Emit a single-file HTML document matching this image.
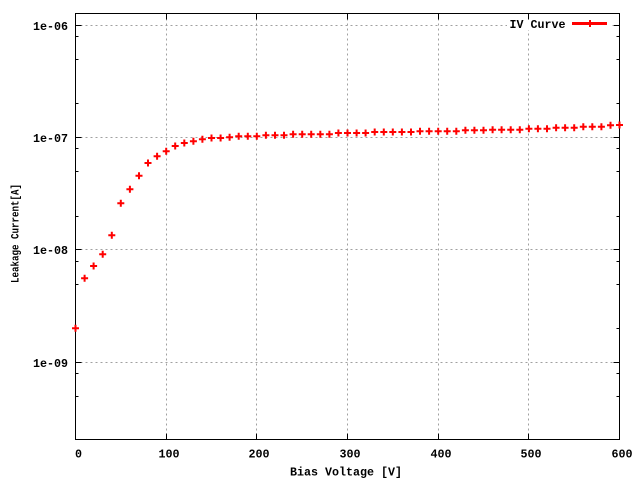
<!DOCTYPE html>
<html><head><meta charset="utf-8"><style>
html,body{margin:0;padding:0;background:#fff;}
svg{display:block;}
text{font-family:"Liberation Mono","DejaVu Sans Mono",monospace;font-weight:bold;fill:#000;}
</style></head><body>
<svg width="640" height="480" viewBox="0 0 640 480" xmlns="http://www.w3.org/2000/svg">
<defs>
<marker id="cr" markerUnits="userSpaceOnUse" markerWidth="10" markerHeight="10" refX="5" refY="5" overflow="visible">
<path d="M1.5 5H8.5M5 1.5V8.5" stroke="#f00" stroke-width="2" fill="none"/>
</marker>
</defs>
<rect width="640" height="480" fill="#fff"/>
<g stroke="#a0a0a0" stroke-width="1" stroke-dasharray="2,3" fill="none">
<path d="M75.5 25.5H619.5M75.5 137.5H619.5M75.5 249.5H619.5M75.5 362.5H619.5"/>
<path d="M166.5 13.5V439.5M256.5 13.5V439.5M347.5 13.5V439.5M438.5 13.5V439.5M528.5 13.5V439.5"/>
</g>
<rect x="507" y="18" width="105" height="12" fill="#fff"/>
<rect x="75.5" y="13.5" width="544" height="426" fill="none" stroke="#000" stroke-width="1"/>
<g stroke="#000" stroke-width="1" fill="none">
<path d="M75.5 25.5h6M75.5 137.5h6M75.5 249.5h6M75.5 362.5h6M619.5 25.5h-6M619.5 137.5h-6M619.5 249.5h-6M619.5 362.5h-6"/>
<path d="M75.5 36.5h3M75.5 59.5h3M75.5 103.5h3M75.5 148.5h3M75.5 171.5h3M75.5 216.5h3M75.5 261.5h3M75.5 284.5h3M75.5 328.5h3M75.5 373.5h3M75.5 396.5h3"/>
<path d="M619.5 36.5h-3M619.5 59.5h-3M619.5 103.5h-3M619.5 148.5h-3M619.5 171.5h-3M619.5 216.5h-3M619.5 261.5h-3M619.5 284.5h-3M619.5 328.5h-3M619.5 373.5h-3M619.5 396.5h-3"/>
<path d="M166.5 439.5v-6M256.5 439.5v-6M347.5 439.5v-6M438.5 439.5v-6M528.5 439.5v-6M166.5 13.5v6M256.5 13.5v6M347.5 13.5v6M438.5 13.5v6M528.5 13.5v6"/>
</g>
<g font-size="11.67" text-anchor="end">
<text x="68" y="30">1e-06</text>
<text x="68" y="142">1e-07</text>
<text x="68" y="254">1e-08</text>
<text x="68" y="367">1e-09</text>
</g>
<g font-size="11.67" text-anchor="middle">
<text x="78.5" y="457.5">0</text>
<text x="169" y="457.5">100</text>
<text x="259" y="457.5">200</text>
<text x="350" y="457.5">300</text>
<text x="441" y="457.5">400</text>
<text x="531" y="457.5">500</text>
<text x="622" y="457.5">600</text>
</g>
<text x="346" y="475.5" font-size="11.67" text-anchor="middle">Bias Voltage [V]</text>
<text transform="translate(18.5,233.5) rotate(-90)" font-size="11" text-anchor="middle" textLength="99" lengthAdjust="spacingAndGlyphs">Leakage Current[A]</text>
<text x="565.5" y="28" font-size="11.67" text-anchor="end">IV Curve</text>
<path d="M572 23.5H607" stroke="#f00" stroke-width="3"/>
<path d="M590 20V27" stroke="#f00" stroke-width="2"/>
<polyline fill="none" stroke="none" marker-start="url(#cr)" marker-mid="url(#cr)" marker-end="url(#cr)" points="
75.5,328.3 84.6,278.3 93.6,266 102.7,254.3 111.8,235.3 120.8,203.3 129.9,189.3 139,175.7 148,163 157.1,156.3
166.2,151.3 175.2,146 184.3,143 193.4,141.3 202.4,139.3 211.5,138 220.6,138 229.6,137.3 238.7,136.3 247.8,136.3
256.8,136.3 265.9,135.3 275,135.3 284,135.3 293.1,134.3 302.2,134.3 311.2,134.3 320.3,134.3 329.4,134.3 338.4,133
347.5,133 356.6,133 365.6,133 374.7,132 383.8,132 392.8,132 401.9,132 411,132 420,131.3 429.1,131.3
438.2,131.3 447.2,131.3 456.3,131.3 465.4,130.3 474.4,130.3 483.5,130.3 492.6,129.7 501.6,129.7 510.7,129.7 519.8,129.7
528.9,128.7 537.9,128.7 547,128.7 556.1,127.7 565.1,127.7 574.2,127.7 583.3,126.7 592.3,126.7 601.4,126.7 610.5,125.3
619.5,125"/>
</svg>
</body></html>
